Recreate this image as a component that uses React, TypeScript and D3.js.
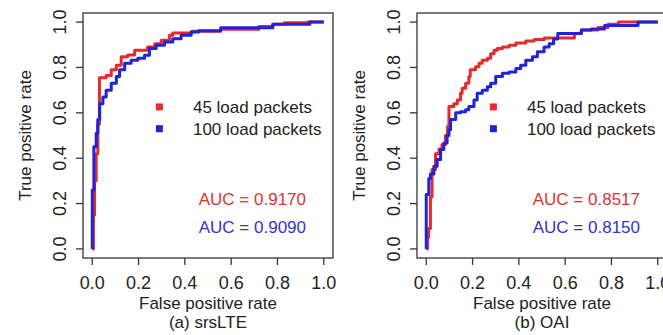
import React from 'react';
import * as d3 from 'd3';

// ROC points [false positive rate, true positive rate]
const srsRed45: [number, number][] = [
  [0, 0], [0.005, 0.15], [0.01, 0.3], [0.017, 0.42], [0.024, 0.55], [0.031, 0.755],
  [0.06, 0.765], [0.082, 0.79], [0.104, 0.81], [0.125, 0.847], [0.153, 0.855],
  [0.183, 0.876], [0.239, 0.89], [0.27, 0.905], [0.298, 0.92], [0.334, 0.942],
  [0.348, 0.952], [0.43, 0.96], [0.555, 0.968], [0.72, 0.98], [0.78, 0.99],
  [0.83, 0.997], [0.93, 1], [1, 1],
];
const srsBlue100: [number, number][] = [
  [0, 0], [0, 0.26], [0.007, 0.45], [0.017, 0.51], [0.024, 0.57], [0.032, 0.64],
  [0.046, 0.67], [0.06, 0.7], [0.082, 0.73], [0.104, 0.76], [0.118, 0.79],
  [0.14, 0.818], [0.168, 0.832], [0.197, 0.84], [0.226, 0.854], [0.247, 0.883],
  [0.276, 0.898], [0.312, 0.912], [0.348, 0.927], [0.384, 0.942], [0.427, 0.956],
  [0.46, 0.962], [0.555, 0.975], [0.78, 0.99], [0.94, 1], [1, 1],
];
const oaiRed45: [number, number][] = [
  [0, 0], [0.005, 0.05], [0.01, 0.09], [0.018, 0.23], [0.025, 0.35], [0.04, 0.42],
  [0.055, 0.44], [0.068, 0.46], [0.083, 0.5], [0.092, 0.54], [0.098, 0.628],
  [0.119, 0.64], [0.134, 0.657], [0.148, 0.686], [0.155, 0.708], [0.17, 0.73],
  [0.184, 0.76], [0.19, 0.79], [0.213, 0.803], [0.228, 0.818], [0.242, 0.832],
  [0.264, 0.84], [0.278, 0.86], [0.293, 0.876], [0.307, 0.883], [0.329, 0.89],
  [0.358, 0.898], [0.387, 0.908], [0.43, 0.917], [0.466, 0.923], [0.51, 0.93],
  [0.64, 0.95], [0.67, 0.965], [0.742, 0.976], [0.785, 0.99], [0.83, 1], [1, 1],
];
const oaiBlue100: [number, number][] = [
  [0, 0], [0, 0.24], [0.011, 0.31], [0.018, 0.33], [0.033, 0.365], [0.047, 0.394],
  [0.062, 0.438], [0.076, 0.467], [0.09, 0.5], [0.098, 0.525], [0.105, 0.57],
  [0.127, 0.6], [0.148, 0.605], [0.17, 0.613], [0.184, 0.628], [0.206, 0.657],
  [0.22, 0.686], [0.242, 0.7], [0.264, 0.715], [0.278, 0.73], [0.3, 0.76],
  [0.329, 0.774], [0.358, 0.78], [0.387, 0.795], [0.408, 0.81], [0.43, 0.832],
  [0.459, 0.847], [0.48, 0.869], [0.509, 0.89], [0.531, 0.905], [0.55, 0.925],
  [0.568, 0.95], [0.67, 0.965], [0.713, 0.97], [0.77, 0.985], [0.915, 1], [1, 1],
];

const ticks = [0, 0.2, 0.4, 0.6, 0.8, 1.0];
const legendLabels = ['45 load packets', '100 load packets'];
const srsAuc = ['0.9170', '0.9090'];
const oaiAuc = ['0.8517', '0.8150'];
const captions = ['(a) srsLTE', '(b) OAI'];

const RED = '#e52a2a';
const BLUE = '#2222d8';
const FONT = "'Liberation Sans', Arial, Helvetica, sans-serif";

type PanelProps = {
  left: number;
  red: [number, number][];
  blue: [number, number][];
  auc: string[];
  caption: string;
};

const Panel = ({ left, red, blue, auc, caption }: PanelProps) => {
  const width = 250;
  const top = 13;
  const bottom = 258;
  const x = d3.scaleLinear().domain([-0.04, 1.04]).range([left, left + width]);
  const y = d3.scaleLinear().domain([-0.04, 1.04]).range([bottom, top]);
  const line = d3
    .line<[number, number]>()
    .x(d => x(d[0]))
    .y(d => y(d[1]))
    .curve(d3.curveStepAfter);
  const cx = (x(0) + x(1)) / 2;
  const cy = (y(0) + y(1)) / 2;

  return (
    <g fontFamily={FONT} fontSize={17}>
      {/* curves: red first, blue on top */}
      <path d={line(red) || ''} fill="none" stroke={RED} strokeWidth={3} strokeLinejoin="round" />
      <path d={line(blue) || ''} fill="none" stroke={BLUE} strokeWidth={3} strokeLinejoin="round" />

      {/* plot box */}
      <rect x={left} y={top} width={width} height={bottom - top} fill="none" stroke="#333" strokeWidth={1.3} />

      {/* x axis */}
      {ticks.map(t => (
        <g key={'x' + t}>
          <line x1={x(t)} x2={x(t)} y1={bottom} y2={bottom + 7} stroke="#333" strokeWidth={1.3} />
          <text x={x(t)} y={283} dy="0.35em" fontSize={18} textAnchor="middle" fill="#222">{t.toFixed(1)}</text>
        </g>
      ))}
      <text x={cx} y={303} dy="0.35em" textAnchor="middle" fill="#222">False positive rate</text>
      <text x={cx} y={322} dy="0.35em" textAnchor="middle" fill="#222">{caption}</text>

      {/* y axis */}
      {ticks.map(t => (
        <g key={'y' + t}>
          <line x1={left} x2={left - 7} y1={y(t)} y2={y(t)} stroke="#333" strokeWidth={1.3} />
          <text
            transform={`translate(${left - 23},${y(t)}) rotate(-90)`}
            dy="0.35em"
            fontSize={18}
            textAnchor="middle"
            fill="#222"
          >
            {t.toFixed(1)}
          </text>
        </g>
      ))}
      <text transform={`translate(${left - 58},${cy}) rotate(-90)`} dy="0.35em" textAnchor="middle" fill="#222">
        True positive rate
      </text>

      {/* legend */}
      {legendLabels.map((label, i) => (
        <g key={label}>
          <rect
            x={x(0.29) - 3.5}
            y={y(i === 0 ? 0.626 : 0.53) - 3.5}
            width={7}
            height={7}
            fill={i === 0 ? RED : BLUE}
          />
          <text x={x(0.435)} y={y(i === 0 ? 0.626 : 0.53)} dy="0.35em" fill="#222">{label}</text>
        </g>
      ))}

      {/* AUC values */}
      <text x={x(0.46)} y={y(0.219)} dy="0.35em" fill="#dd3333">AUC = {auc[0]}</text>
      <text x={x(0.46)} y={y(0.096)} dy="0.35em" fill="#3333cc">AUC = {auc[1]}</text>
    </g>
  );
};

export default function App() {
  return (
    <svg
      width={663}
      height={335}
      style={{ position: 'absolute', left: 0, top: 0, background: '#fff' }}
    >
      <rect width={663} height={335} fill="#fff" />
      <Panel left={83} red={srsRed45} blue={srsBlue100} auc={srsAuc} caption={captions[0]} />
      <Panel left={417} red={oaiRed45} blue={oaiBlue100} auc={oaiAuc} caption={captions[1]} />
    </svg>
  );
}
